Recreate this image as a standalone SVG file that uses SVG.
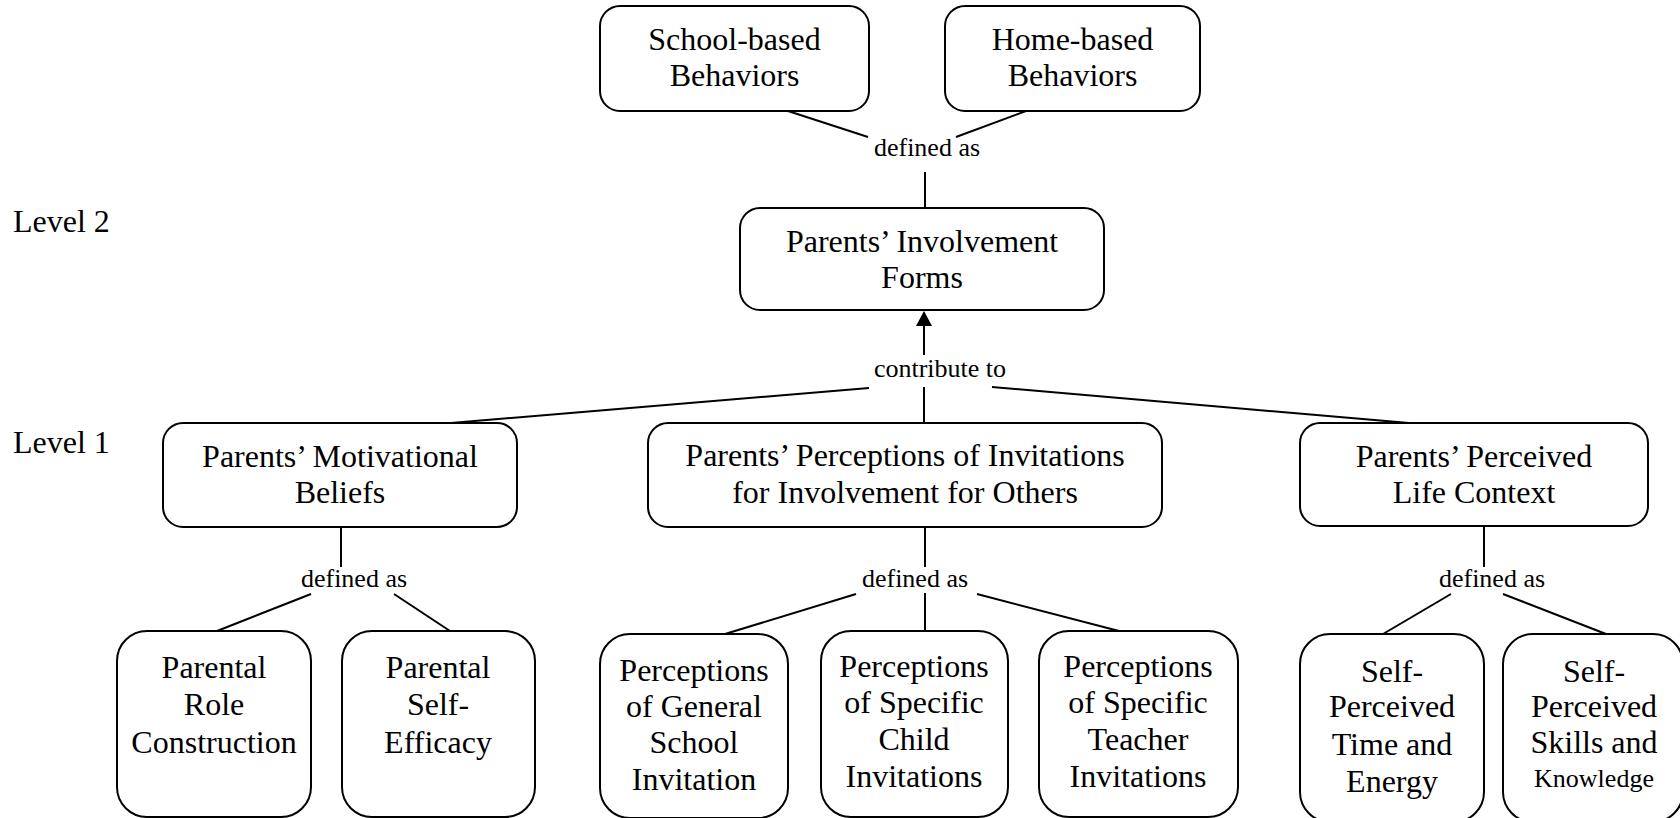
<svg xmlns="http://www.w3.org/2000/svg" width="1680" height="818" viewBox="0 0 1680 818">
<style>
  .box { fill: #ffffff; stroke: #000000; stroke-width: 2; }
  .t { font-family: "Liberation Serif", "Times New Roman", serif; font-size: 32px; fill: #000000; text-anchor: middle; }
  .lbl { font-family: "Liberation Serif", "Times New Roman", serif; font-size: 26px; fill: #000000; text-anchor: middle; }
  .lvl { font-family: "Liberation Serif", "Times New Roman", serif; font-size: 32px; fill: #000000; }
  .small { font-size: 26px; }
  .c line { stroke: #000000; stroke-width: 2; fill: none; }
</style>
<rect width="1680" height="818" fill="#ffffff"/>

<text class="lvl" x="13" y="232">Level 2</text>
<text class="lvl" x="13" y="453">Level 1</text>

<g id="connectors" class="c">
  <line x1="788" y1="111" x2="868" y2="137"/>
  <line x1="1026" y1="111" x2="956" y2="137"/>
  <line x1="925" y1="172" x2="925" y2="208"/>
  <text class="lbl" x="927" y="156">defined as</text>

  <line x1="924" y1="355" x2="924" y2="323"/>
  <polygon points="924,311 916,326 932,326" fill="#000000"/>
  <line x1="924" y1="387" x2="924" y2="423"/>
  <line x1="869" y1="388" x2="451" y2="423"/>
  <line x1="992" y1="387" x2="1409" y2="423"/>
  <text class="lbl" x="940" y="377">contribute to</text>

  <line x1="341" y1="527" x2="341" y2="567"/>
  <line x1="311" y1="594" x2="217" y2="631"/>
  <line x1="394" y1="594" x2="450" y2="631"/>
  <text class="lbl" x="354" y="587">defined as</text>

  <line x1="925" y1="527" x2="925" y2="567"/>
  <line x1="925" y1="593" x2="925" y2="631"/>
  <line x1="856" y1="594" x2="725" y2="634"/>
  <line x1="977" y1="594" x2="1119" y2="631"/>
  <text class="lbl" x="915" y="587">defined as</text>

  <line x1="1484" y1="527" x2="1484" y2="567"/>
  <line x1="1451" y1="594" x2="1383" y2="634"/>
  <line x1="1503" y1="594" x2="1606" y2="634"/>
  <text class="lbl" x="1492" y="587">defined as</text>
</g>

<g id="school">
  <rect class="box" x="600" y="6" width="269" height="105" rx="20"/>
  <text class="t" x="734.5" y="50">School-based</text>
  <text class="t" x="734.5" y="86">Behaviors</text>
</g>
<g id="home">
  <rect class="box" x="945" y="6" width="255" height="105" rx="20"/>
  <text class="t" x="1072.5" y="50">Home-based</text>
  <text class="t" x="1072.5" y="86">Behaviors</text>
</g>
<g id="involvement">
  <rect class="box" x="740" y="208" width="364" height="102" rx="20"/>
  <text class="t" x="922" y="252">Parents’ Involvement</text>
  <text class="t" x="922" y="288">Forms</text>
</g>
<g id="motivational">
  <rect class="box" x="163" y="423" width="354" height="104" rx="20"/>
  <text class="t" x="340" y="467">Parents’ Motivational</text>
  <text class="t" x="340" y="503">Beliefs</text>
</g>
<g id="invitations">
  <rect class="box" x="648" y="423" width="514" height="104" rx="20"/>
  <text class="t" x="905" y="466">Parents’ Perceptions of Invitations</text>
  <text class="t" x="905" y="503">for Involvement for Others</text>
</g>
<g id="lifecontext">
  <rect class="box" x="1300" y="423" width="348" height="103" rx="20"/>
  <text class="t" x="1474" y="467">Parents’ Perceived</text>
  <text class="t" x="1474" y="503">Life Context</text>
</g>
<g id="role">
  <rect class="box" x="117" y="631" width="194" height="186" rx="30"/>
  <text class="t" x="214" y="678">Parental</text>
  <text class="t" x="214" y="715">Role</text>
  <text class="t" x="214" y="753">Construction</text>
</g>
<g id="selfefficacy">
  <rect class="box" x="342" y="631" width="193" height="186" rx="30"/>
  <text class="t" x="438" y="678">Parental</text>
  <text class="t" x="438" y="715">Self-</text>
  <text class="t" x="438" y="753">Efficacy</text>
</g>
<g id="general">
  <rect class="box" x="600" y="634" width="188" height="184" rx="30"/>
  <text class="t" x="694" y="681">Perceptions</text>
  <text class="t" x="694" y="717">of General</text>
  <text class="t" x="694" y="753">School</text>
  <text class="t" x="694" y="790">Invitation</text>
</g>
<g id="child">
  <rect class="box" x="821" y="631" width="187" height="186" rx="30"/>
  <text class="t" x="914" y="677">Perceptions</text>
  <text class="t" x="914" y="713">of Specific</text>
  <text class="t" x="914" y="750">Child</text>
  <text class="t" x="914" y="787">Invitations</text>
</g>
<g id="teacher">
  <rect class="box" x="1039" y="631" width="199" height="186" rx="30"/>
  <text class="t" x="1138" y="677">Perceptions</text>
  <text class="t" x="1138" y="713">of Specific</text>
  <text class="t" x="1138" y="750">Teacher</text>
  <text class="t" x="1138" y="787">Invitations</text>
</g>
<g id="time">
  <rect class="box" x="1300" y="634" width="184" height="188" rx="30"/>
  <text class="t" x="1392" y="682">Self-</text>
  <text class="t" x="1392" y="717">Perceived</text>
  <text class="t" x="1392" y="755">Time and</text>
  <text class="t" x="1392" y="792">Energy</text>
</g>
<g id="skills">
  <rect class="box" x="1503" y="634" width="180" height="188" rx="30"/>
  <text class="t" x="1594" y="682">Self-</text>
  <text class="t" x="1594" y="717">Perceived</text>
  <text class="t" x="1594" y="753">Skills and</text>
  <text class="t small" x="1594" y="787">Knowledge</text>
</g>
</svg>
